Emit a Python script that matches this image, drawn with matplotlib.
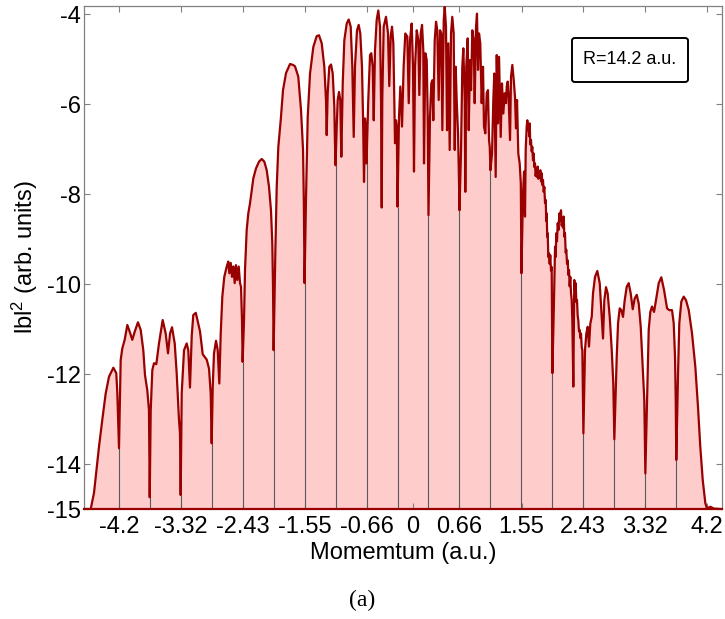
import matplotlib
matplotlib.use("Agg")
import matplotlib.pyplot as plt
from matplotlib.patches import FancyBboxPatch

plt.rcParams['font.family'] = ['Liberation Sans', 'DejaVu Sans']
plt.rcParams['mathtext.default'] = 'regular'

# Photoelectron momentum distribution, log10 |b|^2 versus momentum (a.u.)
momentum = [
    -4.700, -4.604, -4.557, -4.486, -4.439, -4.390, -4.343, -4.281, -4.239, -4.224, -4.200,
    -4.176, -4.153, -4.119, -4.081, -4.047, -4.010, -3.976, -3.929, -3.890, -3.853, -3.829, -3.796, -3.772, -3.761,
    -3.747, -3.724, -3.700, -3.667, -3.629, -3.576, -3.533, -3.500, -3.471, -3.443, -3.404, -3.376, -3.343, -3.329, -3.319,
    -3.304, -3.271, -3.233, -3.210, -3.186, -3.161, -3.139, -3.103, -3.043, -3.004, -2.947, -2.914, -2.890, -2.876,
    -2.861, -2.843, -2.814, -2.790, -2.767, -2.747, -2.724, -2.696, -2.661, -2.639, -2.624, -2.604, -2.586, -2.567,
    -2.547, -2.529, -2.510, -2.490, -2.471, -2.457, -2.443, -2.434,
    -2.414, -2.400, -2.376, -2.353, -2.329, -2.304, -2.281, -2.243, -2.200, -2.161, -2.124, -2.090, -2.057, -2.029,
    -2.010, -2.000, -1.991,
    -1.967, -1.947, -1.924, -1.890, -1.857, -1.814, -1.757, -1.714, -1.686, -1.639, -1.600, -1.571, -1.560, -1.549,
    -1.529, -1.504, -1.471, -1.424, -1.376, -1.343, -1.304, -1.267, -1.243, -1.233, -1.219, -1.196, -1.171, -1.147,
    -1.124, -1.116, -1.106,
    -1.090, -1.076, -1.057, -1.039, -1.024, -1.004, -0.981, -0.947, -0.919, -0.890, -0.867, -0.847, -0.829, -0.800,
    -0.776, -0.753, -0.729, -0.714, -0.700, -0.686, -0.676, -0.664,
    -0.639, -0.614, -0.596, -0.576, -0.561, -0.543, -0.519, -0.496, -0.471, -0.457, -0.447, -0.439, -0.419, -0.386,
    -0.357, -0.339, -0.319, -0.300, -0.281, -0.267, -0.257, -0.243, -0.232, -0.221,
    -0.200, -0.181, -0.157, -0.134, -0.110, -0.081, -0.061, -0.043, -0.019, 0.000, 0.014, 0.029, 0.053, 0.076,
    0.090, 0.110, 0.129, 0.147, 0.157, 0.176, 0.196, 0.210, 0.221,
    0.243, 0.261, 0.276, 0.290, 0.310, 0.329, 0.347, 0.367, 0.386, 0.404, 0.419, 0.439, 0.453, 0.471, 0.486,
    0.504, 0.524, 0.543, 0.561, 0.581, 0.596, 0.610, 0.624, 0.643, 0.653, 0.664,
    0.686, 0.704, 0.719, 0.739, 0.747, 0.761, 0.781, 0.796, 0.814, 0.829, 0.847, 0.867, 0.881, 0.900, 0.914,
    0.929, 0.943, 0.961, 0.981, 1.000, 1.014, 1.033, 1.053, 1.071, 1.086, 1.096, 1.106,
    1.129, 1.147, 1.161, 1.181, 1.196, 1.214, 1.229, 1.253, 1.271, 1.290, 1.310, 1.329, 1.339, 1.353, 1.364,
    1.386, 1.400, 1.419, 1.439, 1.457, 1.471, 1.486, 1.504, 1.524, 1.540, 1.549,
    1.571, 1.586, 1.600, 1.610, 1.624, 1.633, 1.643, 1.653, 1.660, 1.667, 1.676, 1.686, 1.695, 1.704, 1.714,
    1.724, 1.733, 1.743, 1.752, 1.761, 1.771, 1.781, 1.790, 1.800, 1.810, 1.819, 1.829, 1.839, 1.848, 1.857,
    1.867, 1.876, 1.886, 1.896, 1.903, 1.910, 1.917, 1.924, 1.933, 1.943, 1.952, 1.961, 1.971, 1.981, 1.991,
    2.014, 2.029, 2.038, 2.047, 2.057, 2.067, 2.078, 2.090, 2.100, 2.114, 2.124, 2.133, 2.143, 2.153, 2.162,
    2.171, 2.181, 2.190, 2.200, 2.210, 2.219, 2.229, 2.238, 2.247, 2.257, 2.267, 2.276, 2.290, 2.304, 2.314,
    2.324, 2.333, 2.343, 2.352, 2.361, 2.371, 2.381, 2.390, 2.400, 2.410, 2.419, 2.434,
    2.457, 2.476, 2.496, 2.514, 2.533, 2.553, 2.571, 2.600, 2.633, 2.667, 2.696, 2.714, 2.733, 2.757, 2.781,
    2.810, 2.839, 2.861, 2.876,
    2.910, 2.929, 2.953, 2.976, 3.000, 3.024, 3.053, 3.081, 3.110, 3.139, 3.167, 3.196, 3.224, 3.253, 3.281,
    3.304, 3.319,
    3.347, 3.367, 3.390, 3.414, 3.443, 3.471, 3.510, 3.547, 3.586, 3.629, 3.661, 3.700, 3.724, 3.743, 3.753, 3.761,
    3.786, 3.804, 3.833, 3.867, 3.900, 3.939, 3.986, 4.033, 4.071, 4.104, 4.139, 4.176, 4.200, 4.247, 4.296,
    4.390, 4.414,
]

log_b2 = [
    -15.00, -15.00, -14.64, -13.62, -13.02, -12.43, -12.06, -11.86, -11.98, -12.42, -13.65,
    -11.69, -11.43, -11.24, -10.91, -11.06, -11.24, -11.06, -10.85, -11.02, -11.47, -12.02, -12.36, -12.80, -14.74,
    -12.80, -11.91, -11.76, -11.78, -11.32, -10.80, -11.10, -11.54, -11.10, -10.96, -11.32, -11.98, -13.02, -13.31, -14.69,
    -12.42, -11.47, -11.32, -11.47, -12.30, -11.15, -10.69, -10.64, -11.05, -11.56, -11.68, -11.88, -12.43, -13.54,
    -12.28, -11.54, -11.26, -11.47, -12.21, -11.10, -10.28, -9.84, -9.61, -9.50, -9.76, -9.53, -9.84, -9.61,
    -9.98, -9.58, -9.91, -9.61, -9.98, -10.06, -10.80, -11.73,
    -10.80, -9.69, -8.80, -8.43, -8.21, -7.91, -7.65, -7.43, -7.28, -7.22, -7.28, -7.47, -7.84, -8.36,
    -9.10, -10.06, -11.47,
    -9.32, -7.84, -6.95, -6.36, -5.69, -5.31, -5.11, -5.13, -5.16, -5.39, -6.13, -7.02, -8.13, -9.98,
    -8.13, -6.28, -5.32, -4.73, -4.49, -4.47, -4.65, -5.17, -5.91, -6.69, -5.76, -5.17, -5.12, -5.32,
    -6.06, -6.80, -7.36,
    -6.50, -5.91, -5.73, -5.91, -7.17, -5.54, -4.58, -4.21, -4.12, -4.28, -5.17, -6.73, -5.17, -4.36,
    -4.24, -4.43, -5.17, -6.28, -7.73, -6.32, -6.50, -7.32,
    -5.91, -4.91, -4.87, -5.17, -6.36, -4.80, -4.13, -3.92, -4.28, -5.91, -8.30, -5.91, -4.28, -4.06,
    -4.43, -5.60, -4.50, -4.28, -4.65, -5.91, -6.87, -6.36, -6.50, -8.28,
    -6.28, -5.61, -6.50, -5.17, -4.43, -4.50, -5.98, -4.58, -4.21, -5.17, -7.50, -5.17, -4.36, -4.58,
    -5.80, -4.43, -4.24, -4.80, -7.32, -4.87, -5.02, -6.28, -8.47,
    -6.28, -5.54, -5.47, -6.36, -4.58, -4.17, -4.36, -5.91, -4.36, -4.43, -6.58, -4.13, -3.84, -4.28, -6.58,
    -4.65, -7.02, -4.43, -4.06, -4.43, -7.02, -5.17, -5.91, -6.65, -7.39, -8.36,
    -7.02, -5.17, -4.76, -5.91, -7.95, -5.17, -4.54, -6.58, -5.02, -5.69, -4.36, -4.58, -5.98, -4.28, -3.99,
    -5.24, -4.43, -4.65, -5.98, -5.17, -6.50, -6.65, -5.76, -5.69, -6.80, -6.95, -7.47,
    -7.10, -5.91, -5.32, -7.62, -4.91, -6.43, -4.95, -6.73, -5.54, -6.21, -5.76, -5.98, -5.61, -5.50, -5.76,
    -6.80, -5.39, -5.13, -5.47, -5.84, -6.54, -5.91, -7.10, -7.32, -7.76, -9.76,
    -8.00, -7.50, -8.50, -7.00, -6.50, -6.36, -6.58, -6.45, -6.72, -6.43, -6.90, -6.80, -7.05, -6.95, -7.25,
    -7.10, -7.40, -7.32, -7.60, -7.47, -7.62, -7.39, -7.66, -7.50, -7.62, -7.47, -7.72, -7.54, -7.80, -7.69,
    -7.95, -7.84, -8.20, -8.13, -8.60, -8.43, -8.95, -8.87, -9.40, -9.32, -9.55, -9.36, -9.70, -9.62, -11.98,
    -10.36, -9.17, -9.40, -8.87, -9.05, -8.65, -8.80, -8.43, -8.60, -8.36, -8.70, -8.58, -8.75, -8.50, -8.95,
    -8.87, -9.30, -9.24, -9.55, -9.47, -9.80, -9.69, -10.05, -9.84, -10.20, -10.36, -10.80, -12.28, -9.91, -10.15,
    -9.98, -10.40, -10.36, -10.70, -10.80, -11.05, -11.02, -11.20, -11.10, -11.40, -11.47, -13.32,
    -11.47, -11.10, -10.95, -11.39, -10.88, -10.73, -10.21, -9.84, -9.71, -9.98, -10.73, -11.21, -10.36, -10.07, -10.21,
    -10.73, -11.47, -12.21, -13.45,
    -11.62, -10.87, -10.54, -10.58, -10.73, -10.36, -10.06, -9.98, -10.21, -10.56, -10.32, -10.24, -10.43, -10.95, -11.84,
    -12.58, -14.21,
    -12.36, -11.02, -10.62, -10.50, -10.62, -10.36, -9.98, -9.85, -10.13, -10.54, -10.58, -10.58, -10.87, -11.62, -12.58, -13.91,
    -11.98, -10.87, -10.39, -10.28, -10.36, -10.58, -11.10, -11.84, -12.73, -13.62, -14.36, -14.87, -14.99, -14.95, -14.99,
    -15.00, -15.00,
]

# Interference minima, marked by thin vertical lines up to the curve
dip_momentum = [-4.200, -3.761, -3.319, -2.876, -2.434, -1.991, -1.549, -1.106, -0.664, -0.221,
                0.221, 0.664, 1.106, 1.549, 1.991, 2.434, 2.876, 3.319, 3.761]
dip_depth = [-13.65, -14.74, -14.69, -13.54, -11.73, -11.47, -9.98, -7.36, -7.32, -8.28,
             -8.47, -8.36, -7.47, -9.76, -11.98, -13.32, -13.45, -14.21, -13.91]

x_ticks = [-4.2, -3.32, -2.43, -1.55, -0.66, 0, 0.66, 1.55, 2.43, 3.32, 4.2]
x_tick_labels = ['-4.2', '-3.32', '-2.43', '-1.55', '-0.66', '0', '0.66', '1.55', '2.43', '3.32', '4.2']
y_ticks = [-15, -14, -12, -10, -8, -6, -4]
y_tick_labels = ['-15', '-14', '-12', '-10', '-8', '-6', '-4']

line_red = '#990000'
fill_pink = '#FFCCCC'
axis_grey = '#808080'

fig = plt.figure(figsize=(7.25, 6.19), dpi=100)
ax = fig.add_axes([84 / 725, 1 - 509 / 619, 638 / 725, 503 / 619])

base = -15.0
ax.fill_between(momentum, log_b2, base, facecolor=fill_pink, edgecolor='none', zorder=1)
ax.vlines(dip_momentum, base, dip_depth, colors='#5a5a5a', linewidth=0.8, zorder=2)
ax.plot(momentum, log_b2, color=line_red, linewidth=1.6, zorder=3, solid_joinstyle='round')

ax.set_xlim(-4.70, 4.414)
ax.set_ylim(-15, -3.82)
ax.set_xticks(x_ticks)
ax.set_xticklabels(x_tick_labels)
ax.set_yticks(y_ticks)
ax.set_yticklabels(y_tick_labels)

for side in ('left', 'right', 'top'):
    ax.spines[side].set_color(axis_grey)
    ax.spines[side].set_linewidth(0.9)
ax.spines['bottom'].set_color(line_red)
ax.spines['bottom'].set_linewidth(1.6)
ax.spines['bottom'].set_zorder(4)

ax.tick_params(axis='both', direction='in', length=4, width=0.8, color=axis_grey,
               labelsize=17, labelcolor='black', top=True, right=True)
ax.tick_params(axis='x', pad=5)
ax.tick_params(axis='y', pad=2)

ax.set_xlabel('Momemtum (a.u.)', fontsize=17, labelpad=3)
ax.set_ylabel('lbl$^{2}$ (arb. units)', fontsize=17, labelpad=5)

# Parameter box in the upper right
box = FancyBboxPatch((572 / 725, 1 - 82 / 619), 116 / 725, 44 / 619,
                     boxstyle='round,pad=0,rounding_size=0.004',
                     transform=fig.transFigure, facecolor='white', edgecolor='black',
                     linewidth=1.4, zorder=5)
fig.patches.append(box)
fig.text(630 / 725, 1 - 60 / 619, 'R=14.2 a.u.', fontsize=13, ha='center', va='center', zorder=6)

fig.text(362 / 725, 1 - 600 / 619, '(a)', fontsize=17, ha='center', va='center',
         family=['Liberation Serif', 'DejaVu Serif'])

fig.savefig('out.png', dpi=100)
